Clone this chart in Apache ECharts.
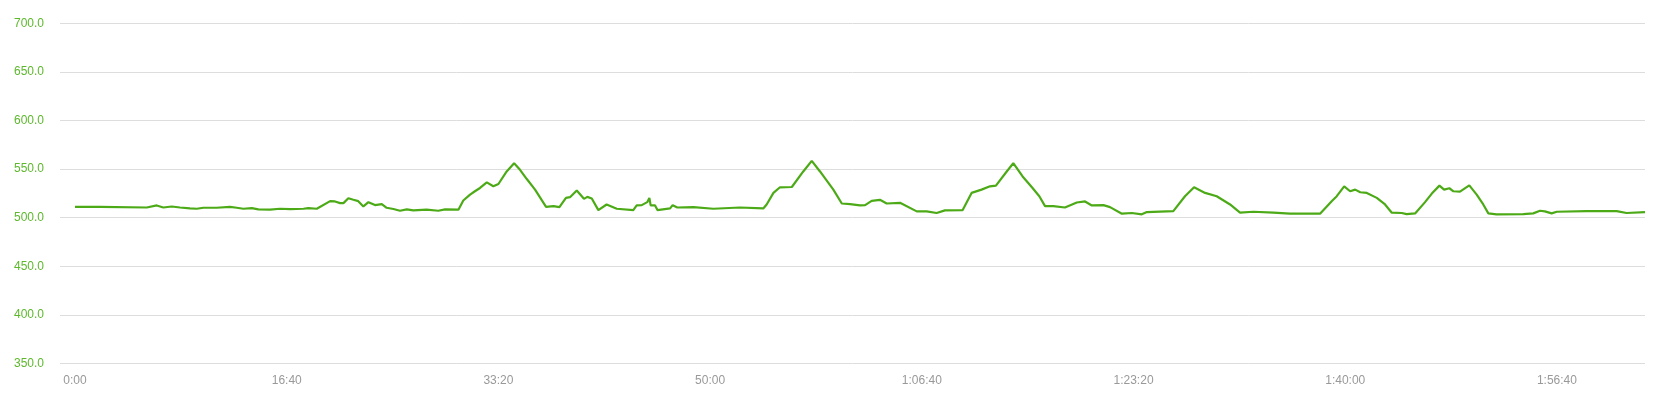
<!DOCTYPE html>
<html>
<head>
<meta charset="utf-8">
<script src="https://cdn.jsdelivr.net/npm/echarts@6/dist/echarts.min.js"></script>
<style>
html,body{margin:0;padding:0;background:#fff;}
#chart{width:1678px;height:403px;}
</style>
</head>
<body>
<div id="chart"></div>
<script>
// elapsed time in seconds
var times = [0,118,339,386,417,457,496,543,575,606,669,732,764,795,835,866,921,968,1016,1079,1102,1142,1205,1228,1252,1268,1291,1315,1338,1362,1386,1417,1449,1472,1504,1535,1567,1598,1661,1716,1748,1811,1834,1866,1889,1913,1945,1976,2000,2039,2074,2102,2134,2173,2225,2260,2288,2319,2338,2370,2404,2420,2441,2472,2511,2559,2637,2653,2677,2703,2713,2719,2740,2751,2811,2823,2845,2921,3015,3141,3251,3267,3299,3330,3386,3440,3480,3519,3582,3622,3661,3708,3732,3763,3802,3834,3897,3976,4023,4070,4109,4193,4235,4282,4322,4350,4401,4432,4476,4519,4555,4582,4621,4676,4732,4771,4803,4858,4889,4945,4992,5039,5063,5188,5243,5286,5338,5393,5456,5503,5566,5660,5739,5881,5936,5960,5995,6023,6047,6071,6102,6149,6188,6220,6267,6290,6330,6377,6409,6445,6467,6492,6511,6542,6586,6621,6652,6676,6715,6841,6888,6920,6943,6975,6999,7140,7282,7329,7416];
var values = [511.2,511.2,510.5,512.6,510.5,511.5,510.5,509.5,509.2,510.2,510.2,511.2,510.2,509.2,509.8,508.5,508.2,509.2,508.9,509.2,509.8,509.2,517.0,516.7,515.0,515.0,520.0,518.4,517.0,511.6,516.0,513.0,514.0,510.2,508.9,507.1,508.5,507.5,508.2,507.1,508.5,508.2,517.7,523.8,527.2,530.6,536.4,532.3,534.7,547.6,556.1,549.3,539.8,528.9,511.2,511.9,510.9,520.4,521.1,527.9,519.4,521.4,519.7,507.8,513.6,509.2,507.8,512.6,512.9,516.0,520.4,512.6,512.6,507.8,509.5,512.9,510.5,510.9,509.2,510.5,509.5,513.6,525.5,531.3,531.6,547.6,558.5,547.6,528.9,514.6,513.9,512.6,512.9,517.3,518.4,514.6,515.3,506.5,506.5,504.8,507.5,507.8,525.5,528.9,532.3,533.0,547.6,556.1,542.5,531.6,522.1,511.9,511.9,510.5,515.6,516.7,512.6,512.9,510.9,504.1,504.8,503.4,505.8,506.8,522.1,531.3,525.5,522.1,513.6,505.1,506.1,505.1,504.1,504.1,517.0,522.1,532.3,527.2,528.9,526.2,525.5,520.4,513.6,505.1,504.8,503.7,504.4,516.0,524.8,533.0,528.9,530.3,527.2,526.9,533.3,523.8,513.6,504.4,503.4,503.7,504.4,507.1,506.5,504.4,506.1,506.8,506.8,504.8,505.8];
var xTickValues = [0,1000,2000,3000,4000,5000,6000,7000];
var yMin = 350, yMax = 700, yStep = 50;

function fmtTime(s){
  var h = Math.floor(s/3600), m = Math.floor((s%3600)/60), sec = Math.round(s%60);
  var ss = (sec<10?'0':'')+sec;
  if (h>0) return h+':'+(m<10?'0':'')+m+':'+ss;
  return m+':'+ss;
}

var data = times.map(function(t,i){return [t, values[i]];});

var chart = echarts.init(document.getElementById('chart'), null, {renderer:'canvas'});
chart.setOption({
  animation:false,
  grid:{left:60,right:33,top:23.5,bottom:39.7,containLabel:false,outerBoundsMode:'none'},
  xAxis:{
    type:'value', min:-71, max:7416,
    axisLine:{show:false}, axisTick:{show:false}, splitLine:{show:false},
    axisLabel:{customValues:xTickValues, formatter:function(v){return fmtTime(v);}, color:'#999', fontSize:12, fontFamily:'Liberation Sans, Arial, sans-serif', margin:11}
  },
  yAxis:{
    type:'value', min:yMin, max:yMax, interval:yStep,
    axisLine:{show:false}, axisTick:{show:false},
    splitLine:{lineStyle:{color:'#dddddd',width:1}},
    axisLabel:{formatter:function(v){return v.toFixed(1);}, color:'#5db82c', fontSize:12, fontFamily:'Liberation Sans, Arial, sans-serif', margin:16, padding:[4,0,0,0]}
  },
  series:[{
    type:'line', data:data, symbol:'none', smooth:false,
    lineStyle:{color:'#4caa17', width:2.2}
  }]
});
</script>
</body>
</html>
